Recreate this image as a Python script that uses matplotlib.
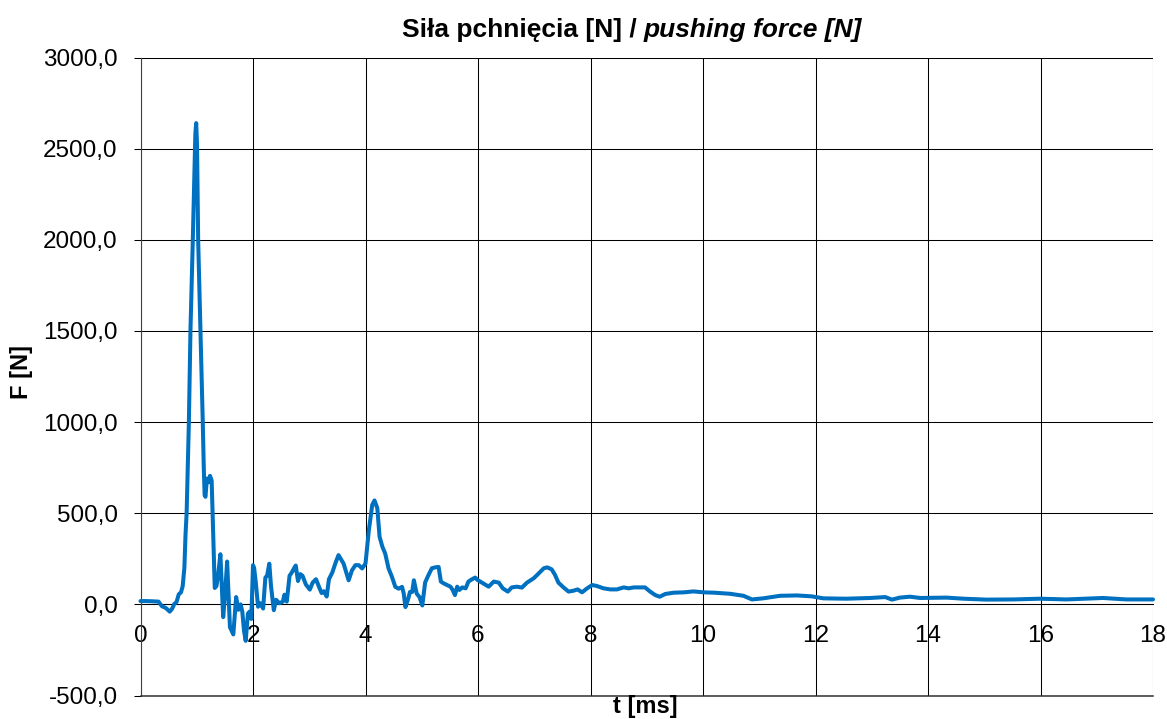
import matplotlib
matplotlib.use('Agg')
import matplotlib.pyplot as plt
from matplotlib.ticker import FuncFormatter

plt.rcParams['font.family'] = ['Liberation Sans', 'DejaVu Sans']

# ---- data ----
time_ms = [0.00, 0.10, 0.20, 0.32, 0.38, 0.45, 0.52, 0.56, 0.60, 0.64, 0.68, 0.72, 0.75,
           0.78, 0.80, 0.82, 0.86, 0.888, 0.93, 0.96, 0.975, 0.99, 1.005, 1.025, 1.066,
           1.107, 1.125, 1.14, 1.155, 1.18, 1.21, 1.235, 1.265, 1.29, 1.32, 1.35, 1.38, 1.42, 1.47,
           1.50, 1.54, 1.59, 1.65, 1.70, 1.74, 1.78, 1.81, 1.84, 1.87, 1.91, 1.94, 1.97,
           2.00, 2.02, 2.05, 2.09, 2.13, 2.18, 2.22, 2.25, 2.29, 2.32, 2.37, 2.41, 2.47,
           2.53, 2.56, 2.60, 2.65, 2.69, 2.74, 2.76, 2.80, 2.84, 2.88, 2.94, 3.01, 3.06,
           3.12, 3.18, 3.22, 3.26, 3.31, 3.35, 3.41, 3.47, 3.52, 3.61, 3.70, 3.76, 3.82,
           3.88, 3.94, 4.00, 4.06, 4.12, 4.16, 4.21, 4.25, 4.30, 4.35, 4.41, 4.47, 4.53,
           4.59, 4.65, 4.68, 4.71, 4.76, 4.79, 4.83, 4.86, 4.91, 4.96, 5.01, 5.06, 5.12,
           5.18, 5.24, 5.30, 5.34, 5.39, 5.45, 5.51, 5.55, 5.59, 5.63, 5.67, 5.72, 5.78,
           5.83, 5.89, 5.95, 5.99, 6.07, 6.19, 6.28, 6.37, 6.44, 6.53, 6.60, 6.69, 6.78,
           6.87, 6.99, 7.08, 7.17, 7.23, 7.31, 7.37, 7.43, 7.52, 7.61, 7.70, 7.77, 7.85,
           7.94, 8.03, 8.11, 8.23, 8.35, 8.47, 8.59, 8.68, 8.77, 8.89, 8.97, 9.06, 9.15,
           9.23, 9.33, 9.48, 9.66, 9.83, 10.01, 10.20, 10.48, 10.72, 10.87, 11.07, 11.37,
           11.67, 11.93, 12.14, 12.55, 12.97, 13.24, 13.36, 13.50, 13.68, 13.86, 14.33,
           14.63, 15.04, 15.52, 15.99, 16.46, 17.11, 17.53, 18.00]

force_n = [18, 18, 17, 15, -10, -20, -40, -25, 2, 12, 55, 66, 100,
           200, 380, 500, 1000, 1500, 2000, 2400, 2580, 2640, 2520, 2000, 1500,
           1000, 750, 600, 590, 690, 670, 705, 680, 420, 90, 100, 160, 275, -70,
           40, 235, -125, -165, 40, -30, 0, -40, -145, -200, -50, -40, -80,
           215, 200, 119, -13, 6, -23, 147, 157, 223, 100, -32, 25, 6,
           15, 53, 15, 157, 175, 204, 213, 128, 166, 157, 109, 81, 119,
           138, 91, 62, 72, 43, 138, 175, 230, 270, 224, 132, 187, 215,
           215, 197, 224, 408, 546, 570, 528, 371, 316, 279, 197, 151, 96,
           86, 96, 59, -15, 31, 68, 68, 132, 59, 40, -6, 120, 161,
           198, 203, 205, 125, 115, 106, 97, 79, 51, 97, 79, 93, 88,
           125, 137, 147, 134, 119, 97, 125, 119, 88, 70, 93, 97, 92,
           119, 143, 170, 198, 203, 192, 161, 119, 93, 70, 75, 82, 66,
           88, 106, 101, 88, 82, 82, 93, 88, 93, 93, 93, 70, 51,
           42, 57, 64, 66, 71, 66, 64, 58, 47, 27, 33, 47,
           49, 44, 33, 31, 35, 40, 26, 37, 42, 35, 37,
           31, 26, 27, 31, 27, 35, 27, 27]

x_ticks = [0, 2, 4, 6, 8, 10, 12, 14, 16, 18]
y_ticks = [-500, 0, 500, 1000, 1500, 2000, 2500, 3000]

title_pl = "Siła pchnięcia [N] /"
title_en = "pushing force [N]"
x_label = "t [ms]"
y_label = "F [N]"

# ---- figure ----
W, H = 1167, 719
fig = plt.figure(figsize=(W / 100, H / 100), dpi=100)
ax = fig.add_axes([140.5 / W, 1 - 695.5 / H, (1153 - 140.5) / W, (695.5 - 57.5) / H])

ax.plot(time_ms, force_n, color='#0070C0', lw=2.9, solid_joinstyle='round',
        solid_capstyle='round', zorder=3, clip_on=False)

y_lo, y_hi = y_ticks[0], y_ticks[-1]
ax.set_xlim(x_ticks[0], x_ticks[-1])
ax.set_ylim(y_lo, y_hi)
ax.set_xticks(x_ticks)
ax.set_yticks(y_ticks)
ax.yaxis.set_major_formatter(FuncFormatter(lambda v, p: f"{v:.1f}".replace('.', ',')))

ax.grid(True, color='black', lw=0.75, zorder=1)
ax.set_axisbelow(True)
for s in ['top', 'right']:
    ax.spines[s].set_visible(False)
ax.spines['bottom'].set_linewidth(1.1)
ax.spines['bottom'].set_color('#303030')
ax.spines['bottom'].set_zorder(5)
ax.spines['left'].set_linewidth(0.8)
ax.spines['left'].set_color('#404040')

ax.tick_params(axis='x', length=0, labelbottom=False)
ax.tick_params(axis='y', length=5, width=0.75, pad=11.5, labelsize=17.5, direction='out')

# axis crossing at F = 0 carrying the t labels
zero_frac = (0 - y_lo) / (y_hi - y_lo)
sec = ax.secondary_xaxis(zero_frac)
sec.set_xticks(x_ticks)
sec.xaxis.set_major_formatter(FuncFormatter(lambda v, p: f"{v:.0f}"))
sec.tick_params(axis='x', length=0, pad=15, labelsize=17.5)
sec.spines['bottom'].set_linewidth(0.75)
sec.spines['bottom'].set_color('black')

fig.text(21.7 / W, 1 - 372 / H, y_label, rotation=90, weight='bold', size=17,
         ha='center', va='center')
fig.text(645.8 / W, 1 - 706 / H, x_label, weight='bold', size=17,
         ha='center', va='center')

# title: bold part + bold italic part, centered together
ty = 1 - 37.5 / H
t1 = fig.text(0, ty, title_pl, weight='bold', size=19, ha='left', va='baseline')
t2 = fig.text(0, ty, title_en, weight='bold', style='italic', size=19, ha='left', va='baseline')
fig.canvas.draw()
r = fig.canvas.get_renderer()
w1 = t1.get_window_extent(r).width
w2 = t2.get_window_extent(r).width
gap = 0.278 * 19 * 100 / 72
total = w1 + gap + w2
x0 = 631.7 - total / 2
t1.set_x(x0 / W)
t2.set_x((x0 + w1 + gap) / W)

fig.savefig('out.png', dpi=100)
